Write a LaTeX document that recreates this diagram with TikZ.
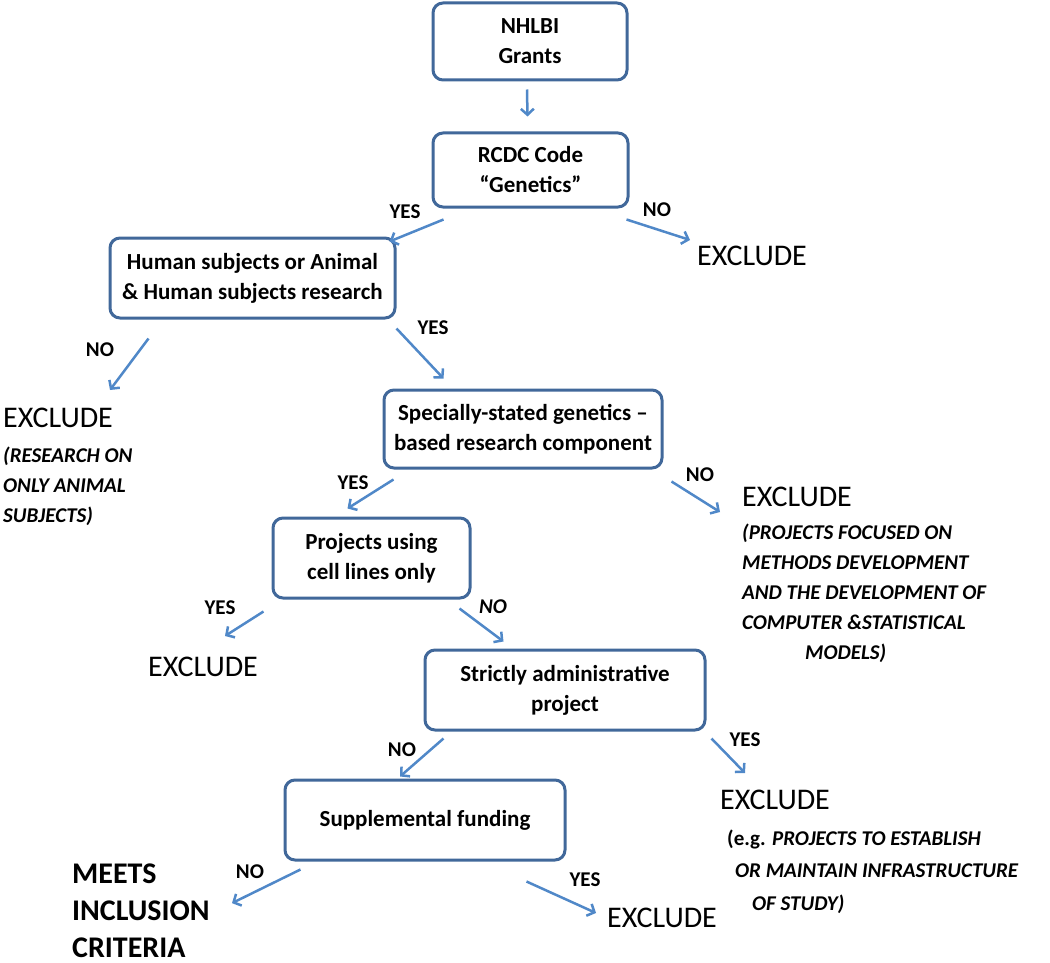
\documentclass[tikz,border=0pt]{standalone}
\usepackage{fontspec}
\setmainfont{Carlito}
\usetikzlibrary{arrows.meta}
\definecolor{BoxBlue}{HTML}{41689A}
\definecolor{ArrowBlue}{HTML}{5088C8}

\begin{document}
\begin{tikzpicture}[x=1pt, y=-1pt,
    stepbox/.style={draw=BoxBlue, line width=3pt, rounded corners=10pt, fill=white, align=center, font=\fontsize{23}{30}\selectfont\bfseries, inner sep=0pt},
    excl/.style={anchor=west, inner sep=0pt, font=\fontsize{30}{34}\selectfont},
    note/.style={anchor=base west, inner sep=0pt, align=left, font=\fontsize{21}{30}\selectfont\bfseries\itshape},
    lbl/.style={inner sep=0pt, font=\fontsize{21}{24}\selectfont\bfseries},
    arr/.style={-{Straight Barb[length=6pt,width=13pt]}, draw=ArrowBlue, line width=2.5pt}
  ]
    \useasboundingbox (0,0) rectangle (1050,963);

    % decision boxes
    \node[stepbox, minimum width=194, minimum height=77] (nhlbi) at (530,41.5) {NHLBI\\Grants};
    \node[stepbox, minimum width=195, minimum height=74] (rcdc) at (530.5,170) {RCDC Code\\“Genetics”};
    \node[stepbox, minimum width=285, minimum height=80] (human) at (252.5,278) {Human subjects or Animal\\\& Human subjects research};
    \node[stepbox, minimum width=278, minimum height=78] (special) at (523,429) {Specially-stated genetics --\\based research component};
    \node[stepbox, minimum width=197, minimum height=80] (cells) at (371.5,558) {Projects using\\cell lines only};
    \node[stepbox, minimum width=280, minimum height=80] (admin) at (565,690) {Strictly administrative\\project};
    \node[stepbox, minimum width=280, minimum height=80] (suppl) at (425,820) {Supplemental funding};

    % outcomes (base = last line)
    \node[excl] (ex1) at (697,256) {EXCLUDE};
    \node[excl] (ex2) at (3,418) {EXCLUDE};
    \node[note] (note2) at (3,522) {(RESEARCH ON\\ONLY ANIMAL\\SUBJECTS)};
    \node[excl] (ex3) at (742,497) {EXCLUDE};
    \node[note] (note3) at (742,659) {(PROJECTS FOCUSED ON\\METHODS DEVELOPMENT\\AND THE DEVELOPMENT OF\\COMPUTER \&STATISTICAL\\\hspace*{63pt}MODELS)};
    \node[excl] (ex4) at (148,667) {EXCLUDE};
    \node[excl] (ex5) at (720,800) {EXCLUDE};
    \node[note, font=\fontsize{21}{32.5}\selectfont\bfseries\itshape] (note5) at (727,910) {{\upshape (e.g.} PROJECTS TO ESTABLISH\\\hspace*{8pt}OR MAINTAIN INFRASTRUCTURE\\\hspace*{25pt}OF STUDY)};
    \node[excl] (ex6) at (607,918) {EXCLUDE};
    \node[anchor=base west, inner sep=0pt, align=left, font=\fontsize{30}{37}\selectfont\bfseries] (meets) at (72,957) {MEETS\\INCLUSION\\CRITERIA};

    % yes / no labels
    \node[lbl] (yes1) at (405,212) {YES};
    \node[lbl] (no1) at (657,210) {NO};
    \node[lbl] (no2) at (100,350) {NO};
    \node[lbl] (yes2) at (433,328) {YES};
    \node[lbl] (yes3) at (353,483) {YES};
    \node[lbl] (no3) at (700,475) {NO};
    \node[lbl] (yes4) at (220,608) {YES};
    \node[lbl, font=\fontsize{21}{24}\selectfont\bfseries\itshape] (no4) at (493,607) {NO};
    \node[lbl] (no5) at (402,750) {NO};
    \node[lbl] (yes5) at (745,740) {YES};
    \node[lbl] (no6) at (250,872) {NO};
    \node[lbl] (yes6) at (585,880) {YES};

    % connectors
    \draw[arr] ([shift={(-3,8)}]nhlbi.south) -- ([shift={(-3,-15)}]rcdc.north);
    \draw[arr] ([shift={(12,11)}]rcdc.south west) -- ([shift={(-7,5)}]human.north east);
    \draw[arr] ([shift={(-3,11)}]rcdc.south east) -- ([shift={(-7,-16)}]ex1.west);
    \draw[arr] ([shift={(40,19)}]human.south west) -- ([shift={(107,-28)}]ex2.west);
    \draw[arr] ([shift={(0,9)}]human.south east) -- ([shift={(61,-10)}]special.north west);
    \draw[arr] ([shift={(11,10)}]special.south west) -- ([shift={(-24,-8)}]cells.north);
    \draw[arr] ([shift={(8,12)}]special.south east) -- ([shift={(-22,15)}]ex3.west);
    \draw[arr] ([shift={(-8,12)}]cells.south west) -- ([shift={(77,-31)}]ex4.west);
    \draw[arr] ([shift={(-12,9)}]cells.south east) -- ([shift={(80,-7)}]admin.north west);
    \draw[arr] ([shift={(20,7)}]admin.south west) -- ([shift={(-25,-2)}]suppl.north);
    \draw[arr] ([shift={(5,7)}]admin.south east) -- ([shift={(25,-27)}]ex5.west);
    \draw[arr] ([shift={(17,8)}]suppl.south west) -- ([shift={(160,40)}]meets.north west);
    \draw[arr] ([shift={(-40,20)}]suppl.south east) -- ([shift={(-11,-5)}]ex6.west);
  \end{tikzpicture}
\end{document}
